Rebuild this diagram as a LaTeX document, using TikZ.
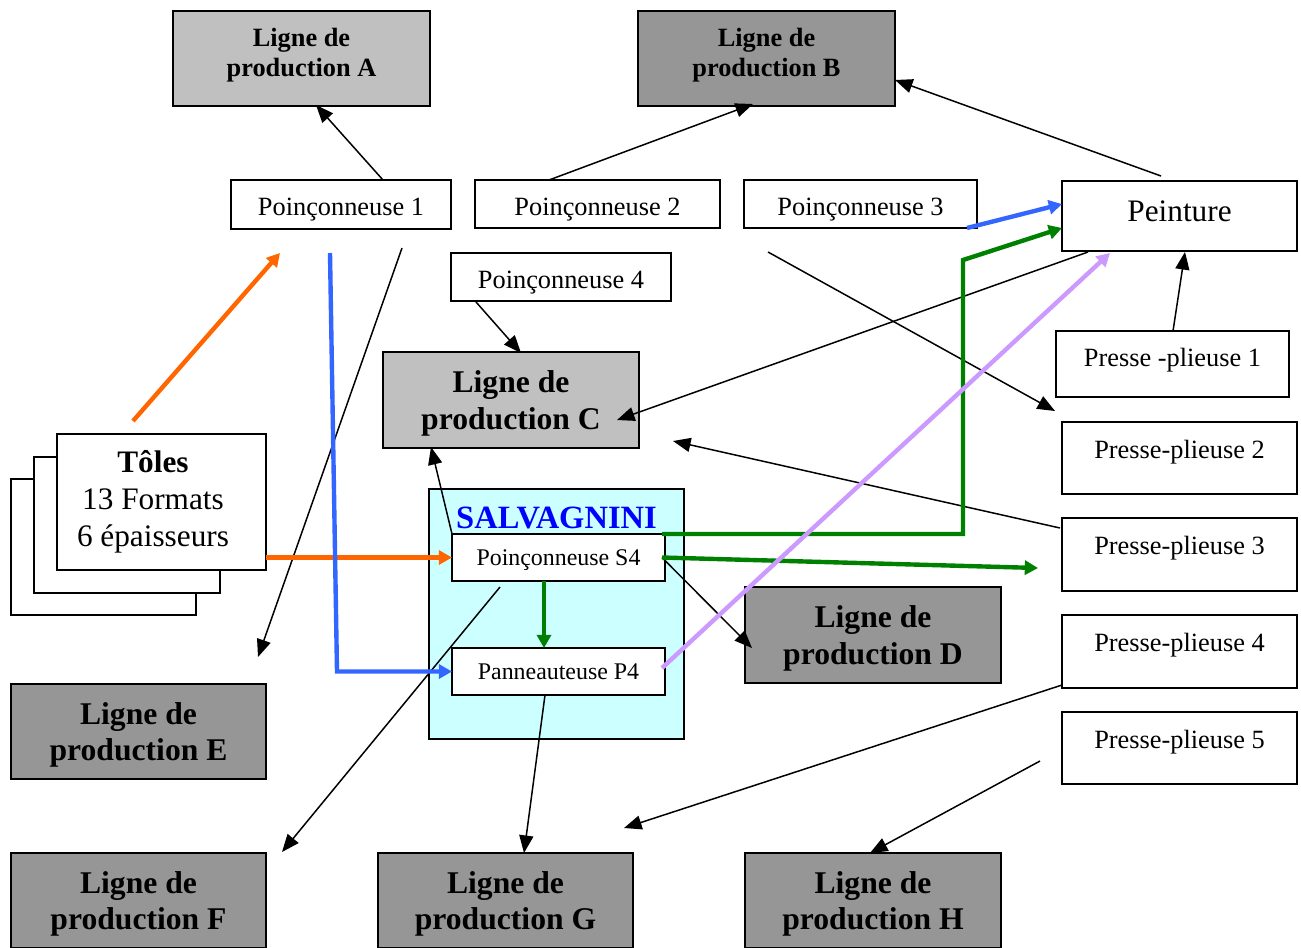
\documentclass[tikz,border=0pt]{standalone}
\usepackage{fontspec}
\setmainfont{Liberation Serif}
\usetikzlibrary{arrows.meta,calc}

\definecolor{grisclair}{HTML}{C0C0C0}
\definecolor{grisfonce}{HTML}{969696}
\definecolor{cyanpale}{HTML}{CCFFFF}
\definecolor{orangevif}{HTML}{FF6600}
\definecolor{bleuvif}{HTML}{3366FF}
\definecolor{vertfonce}{HTML}{008000}
\definecolor{lavande}{HTML}{CC99FF}
\definecolor{bleutitre}{HTML}{0000FF}

\tikzset{
  box/.style={draw, line width=1.1pt, inner sep=0pt, outer sep=0pt, fill=white, align=center},
  sz/.style 2 args={minimum width={#1*0.02cm}, minimum height={#2*0.02cm}},
  machine/.style={box, font=\fontsize{15}{18}\selectfont, text height=16pt, text depth=3pt},
  salvmachine/.style={box, font=\fontsize{13.6}{16}\selectfont, text height=9.5pt, text depth=0pt},
  presse/.style={box, font=\fontsize{15}{18}\selectfont, text height=9pt, text depth=9pt},
  grand/.style={box, font=\fontsize{17.8}{21}\selectfont},
  ligne/.style={box, font=\bfseries\fontsize{18}{21}\selectfont, text depth=-0.5pt},
  lignepetite/.style={box, font=\bfseries\fontsize{15}{17}\selectfont, text depth=6.7pt},
  flux/.style={line width=0.85pt, -{Triangle[length=10pt,width=8pt]}},
  fluxcouleur/.style={line width=2.5pt, -{Triangle[length=7.5pt,width=8pt]}},
}

\begin{document}
\begin{tikzpicture}[x=0.02cm, y=-0.02cm]
\useasboundingbox (0,0) rectangle (1301,947);

% lignes de production
\node[lignepetite, fill=grisclair, sz={257}{95}] (A) at (301.5,58.5) {Ligne de\\production A};
\node[lignepetite, fill=grisfonce, sz={257}{95}] (B) at (766.5,58.5) {Ligne de\\production B};
\node[ligne, fill=grisclair, sz={256}{96}] (C) at (511,400) {Ligne de\\production C};
\node[ligne, fill=grisfonce, sz={256}{96}] (D) at (873,635) {Ligne de\\production D};
\node[ligne, fill=grisfonce, sz={255}{95}] (E) at (138.5,731.5) {Ligne de\\production E};
\node[ligne, fill=grisfonce, sz={255}{95}] (F) at (138.5,900.5) {Ligne de\\production F};
\node[ligne, fill=grisfonce, sz={255}{95}] (G) at (505.5,900.5) {Ligne de\\production G};
\node[ligne, fill=grisfonce, sz={256}{95}] (H) at (873,900.5) {Ligne de\\production H};

% poinconneuses
\node[machine, sz={220}{49}] (p1) at (341,204.5) {Poinçonneuse 1};
\node[machine, sz={245}{48}] (p2) at (597.5,204) {Poinçonneuse 2};
\node[machine, sz={233}{48}] (p3) at (860.5,204) {Poinçonneuse 3};
\node[machine, sz={220}{48}] (p4) at (561,277) {Poinçonneuse 4};

% peinture et presses-plieuses
\node[grand, sz={235}{70}, text height=12pt, text depth=6pt] (pe) at (1179.5,216) {Peinture};
\node[presse, sz={233}{66}, text height=10.7pt, text depth=7.3pt] (pp1) at (1172.5,364) {Presse -plieuse 1};
\node[presse, sz={235}{72}] (pp2) at (1179.5,458) {Presse-plieuse 2};
\node[presse, sz={235}{73}] (pp3) at (1179.5,554.5) {Presse-plieuse 3};
\node[presse, sz={235}{73}] (pp4) at (1179.5,651.5) {Presse-plieuse 4};
\node[presse, sz={235}{72}] (pp5) at (1179.5,748) {Presse-plieuse 5};

% pile de toles
\node[box, sz={185}{136}] (t3) at (103.5,547) {};
\node[box, sz={186}{136}] (t2) at (127,525) {};
\node[box, sz={209}{136}] (t1) at (161.5,502) {};
\node[font=\fontsize{17.8}{21}\selectfont, align=center, inner sep=0pt] (toltexte) at (153,502)
  {\textbf{Tôles}\\13 Formats\hspace*{6pt}\\6 épaisseurs};

% cellule Salvagnini
\node[box, fill=cyanpale, sz={255}{250}] (sal) at (556.5,614) {};
\node[font=\bfseries\fontsize{18.5}{21}\selectfont, text=bleutitre, inner sep=0pt] (saltitre) at (556.5,518) {SALVAGNINI};
\node[salvmachine, sz={213}{47}] (s4) at (558.5,557.5) {Poinçonneuse S4};
\node[salvmachine, sz={213}{47}] (p4p) at (558.5,671.5) {Panneauteuse P4};

% points de passage
\coordinate (gcoude) at (963,260);
\coordinate (bcoude) at (337,671.5);

% flux noirs
\draw[flux] ($(p1.north)+(42,0)$) -- ($(A.south)+(14.5,-1)$);
\draw[flux] ($(p2.north)+(-48.5,0)$) -- ($(B.south)+(-13.5,-2)$);
\draw[flux] ($(pe.north)+(-18.5,-5)$) -- ($(B.east)+(0,21.5)$);
\draw[flux] ($(p1.south)+(61,19)$) -- ($(E.north)+(119.5,-27)$);
\draw[flux] ($(p4.south)+(-85,1)$) -- ($(C.north)+(10,1)$);
\draw[flux] ($(pe.south)+(-91.5,1)$) -- ($(C.east)+(-22,20)$);
\draw[flux] ($(p3.south)+(-92.5,24)$) -- ($(pp2.north west)+(-7,-11)$);
\draw[flux] ($(pp1.north)+(0.5,0)$) -- ($(pe.south)+(5.5,1)$);
\draw[flux] ($(pp3.west)+(-2,-26.5)$) -- ($(C.south east)+(34,-7)$);
\draw[flux] (s4.north west) -- ($(C.south west)+(48,-1)$);
\draw[flux] ($(s4.east)+(-3,0)$) -- ($(D.west)+(7,13)$);
\draw[flux] ($(s4.south)+(-58.5,6)$) -- ($(F.north east)+(16,-1)$);
\draw[flux] ($(p4p.south)+(-13.5,0)$) -- ($(G.north)+(18.5,0)$);
\draw[flux] ($(pp4.south west)+(0,-3)$) -- ($(G.north east)+(-9,-25)$);
\draw[flux] ($(pp5.west)+(-22,13)$) -- ($(H.north)+(-3,0)$);

% flux en couleur
\draw[fluxcouleur, orangevif] ($(t1.north west)+(76,-13)$) -- ($(p1.south west)+(49,24)$);
\draw[fluxcouleur, orangevif] ($(t1.east)+(0,55.5)$) -- (s4.west);
\draw[fluxcouleur, bleuvif] ($(p1.south)+(-11,24)$) -- (bcoude) -- (p4p.west);
\draw[fluxcouleur, bleuvif] ($(p3.south east)+(-10,0)$) -- ($(pe.west)+(0,-12)$);
\draw[fluxcouleur, vertfonce] ($(s4.north east)+(-3,0)$) -| (gcoude) -- ($(pe.west)+(0,12)$);
\draw[fluxcouleur, vertfonce] ($(s4.east)+(-3,0)$) -- ($(pp3.west)+(-24,13.5)$);
\draw[fluxcouleur, vertfonce] ($(s4.south)+(-14.5,0)$) -- ($(p4p.north)+(-14.5,0)$);
\draw[fluxcouleur, lavande] ($(p4p.east)+(-3,-3.5)$) -- ($(pe.south)+(-69.5,2)$);
\end{tikzpicture}
\end{document}
